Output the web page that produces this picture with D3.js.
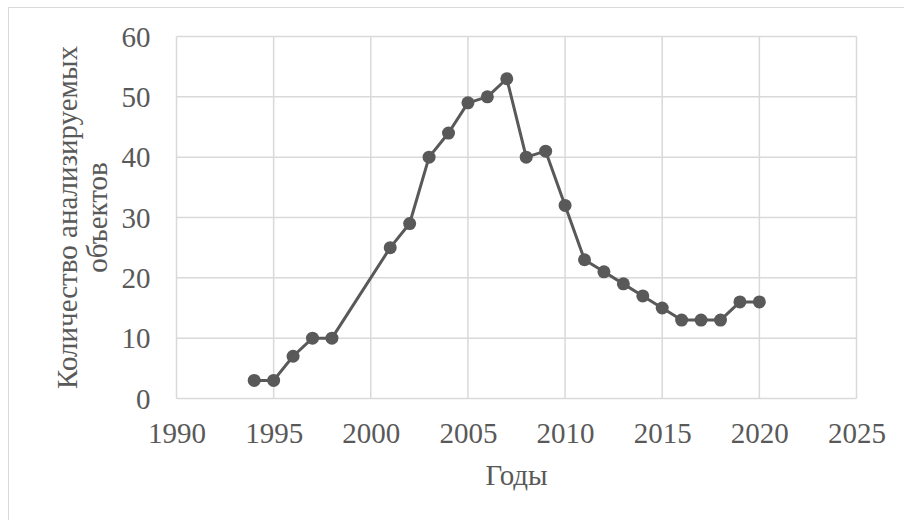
<!DOCTYPE html>
<html>
<head>
<meta charset="utf-8">
<script src="https://cdn.jsdelivr.net/npm/d3@7"></script>
<style>
  html, body { margin: 0; padding: 0; background: #fff; }
  svg { display: block; }
</style>
</head>
<body>
<svg id="chart" width="904" height="520"></svg>
<script>
// Number of analysed objects per year
const years  = [1994, 1995, 1996, 1997, 1998, 2001, 2002, 2003, 2004, 2005, 2006, 2007, 2008,
                2009, 2010, 2011, 2012, 2013, 2014, 2015, 2016, 2017, 2018, 2019, 2020];
const counts = [3, 3, 7, 10, 10, 25, 29, 40, 44, 49, 50, 53, 40,
                41, 32, 23, 21, 19, 17, 15, 13, 13, 13, 16, 16];
const xTicks = [1990, 1995, 2000, 2005, 2010, 2015, 2020, 2025];
const yTicks = [0, 10, 20, 30, 40, 50, 60];
const yTitleLines = ["Количество анализируемых", "объектов"];
const xTitle = "Годы";

const svg = d3.select("#chart");
const ink = "#595959";
const grid = "#d9d9d9";
const font = "'Liberation Serif', 'Times New Roman', serif";
const fontSize = "29px";

// outer frame of the chart area
svg.append("rect")
  .attr("x", 8.5).attr("y", 7.5)
  .attr("width", 920).attr("height", 540)
  .attr("fill", "none").attr("stroke", "#d9d9d9").attr("stroke-width", 1);

const x = d3.scaleLinear().domain([1990, 2025]).range([176.5, 856.5]);
const y = d3.scaleLinear().domain([0, 60]).range([398.5, 36.5]);

// gridlines
svg.append("g").selectAll("line").data(yTicks).join("line")
  .attr("x1", x(1990)).attr("x2", x(2025))
  .attr("y1", d => y(d)).attr("y2", d => y(d))
  .attr("stroke", grid).attr("stroke-width", 1.5);
svg.append("g").selectAll("line").data(xTicks).join("line")
  .attr("x1", d => x(d)).attr("x2", d => x(d))
  .attr("y1", y(0)).attr("y2", y(60))
  .attr("stroke", grid).attr("stroke-width", 1.5);

// axes: tick labels only
const xAxis = svg.append("g")
  .attr("transform", `translate(0,${y(0)})`)
  .call(d3.axisBottom(x).tickValues(xTicks).tickFormat(d3.format("d")).tickSize(0));
const yAxis = svg.append("g")
  .attr("transform", `translate(${x(1990)},0)`)
  .call(d3.axisLeft(y).tickValues(yTicks).tickSize(0).tickPadding(26));
[xAxis, yAxis].forEach(a => {
  a.select(".domain").remove();
  a.selectAll("text")
    .attr("fill", ink)
    .style("font-family", font)
    .style("font-size", fontSize);
});
yAxis.selectAll("text").attr("dy", "0.33em");
xAxis.selectAll("text").attr("y", 44.5).attr("dy", 0);

// line and markers
const data = years.map((yr, i) => ({ yr, v: counts[i] }));
svg.append("path")
  .datum(data)
  .attr("fill", "none")
  .attr("stroke", ink)
  .attr("stroke-width", 3)
  .attr("stroke-linejoin", "round")
  .attr("d", d3.line().x(d => x(d.yr)).y(d => y(d.v)));
svg.append("g").selectAll("circle").data(data).join("circle")
  .attr("cx", d => x(d.yr)).attr("cy", d => y(d.v))
  .attr("r", 6.5)
  .attr("fill", ink);

// axis titles
svg.append("text")
  .attr("x", (x(1990) + x(2025)) / 2).attr("y", 485)
  .attr("text-anchor", "middle")
  .attr("fill", ink)
  .style("font-family", font).style("font-size", fontSize)
  .text(xTitle);

const yt = svg.append("text")
  .attr("transform", `translate(77,${(y(0) + y(60)) / 2}) rotate(-90)`)
  .attr("text-anchor", "middle")
  .attr("fill", ink)
  .style("font-family", font).style("font-size", fontSize);
yTitleLines.forEach((t, i) => {
  yt.append("tspan").attr("x", 0).attr("dy", i === 0 ? 0 : 30).text(t);
});
</script>
</body>
</html>
